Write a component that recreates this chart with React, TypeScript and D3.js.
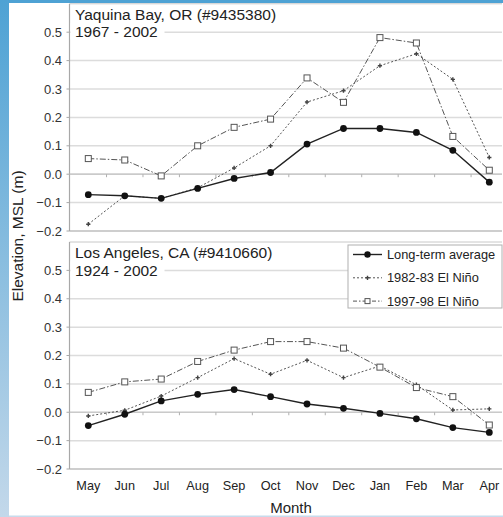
import * as d3 from 'd3';

// months along the x axis (May to Apr)
const months = ['May', 'Jun', 'Jul', 'Aug', 'Sep', 'Oct', 'Nov', 'Dec', 'Jan', 'Feb', 'Mar', 'Apr'];
const yTicks = [-0.2, -0.1, 0.0, 0.1, 0.2, 0.3, 0.4, 0.5];

// Yaquina Bay, OR
const yaqAvg = [-0.072, -0.076, -0.085, -0.05, -0.015, 0.006, 0.106, 0.161, 0.161, 0.147, 0.084, -0.028];
const yaq8283 = [-0.176, -0.076, -0.085, -0.048, 0.022, 0.1, 0.254, 0.294, 0.382, 0.424, 0.334, 0.059];
const yaq9798 = [0.055, 0.05, -0.006, 0.1, 0.165, 0.194, 0.339, 0.253, 0.481, 0.462, 0.133, 0.014];

// Los Angeles, CA
const laAvg = [-0.047, -0.007, 0.04, 0.063, 0.08, 0.055, 0.029, 0.014, -0.004, -0.023, -0.054, -0.071];
const la8283 = [-0.013, 0.007, 0.057, 0.122, 0.189, 0.134, 0.183, 0.122, 0.163, 0.097, 0.008, 0.012];
const la9798 = [0.07, 0.107, 0.117, 0.179, 0.219, 0.249, 0.249, 0.226, 0.159, 0.087, 0.055, -0.045];

const legendLabels = ['Long-term average', '1982-83 El Niño', '1997-98 El Niño'];

const W = 503;
const H = 517;
const FONT = '"Liberation Sans", Arial, sans-serif';
const left = 69.5;
const right = 502;

const x = d3.scalePoint<string>().domain(months).range([88.3, 489.3]);
const step = x.step();

type PanelProps = {
  top: number;
  bottom: number;
  title: string;
  years: string;
  avg: number[];
  s8283: number[];
  s9798: number[];
  legend?: boolean;
};

function Panel({ top, bottom, title, years, avg, s8283, s9798, legend }: PanelProps) {
  const y = d3.scaleLinear().domain([-0.2, 0.6]).range([bottom, top]);
  const line = d3
    .line<number>()
    .x((_, i) => x(months[i]) as number)
    .y((d) => y(d));
  const cross = d3.symbol(d3.symbolCross, 10)() as string;
  const boundaries = d3.range(1, months.length).map((k) => (x(months[0]) as number) - step / 2 + k * step);

  return (
    <g>
      {/* gridlines */}
      {yTicks.map((t) => (
        <line key={t} x1={left} x2={right} y1={y(t)} y2={y(t)} stroke="#dcdcdc" strokeWidth={1.5} />
      ))}
      {/* frame */}
      <line x1={left} x2={right} y1={y(0.6)} y2={y(0.6)} stroke="#c8c8c8" strokeWidth={1} />
      <line x1={left} x2={right} y1={bottom} y2={bottom} stroke="#b8b8b8" strokeWidth={1.2} />
      <line x1={left} x2={left} y1={y(0.6)} y2={bottom} stroke="#a8a8a8" strokeWidth={1.2} />
      {/* zero axis with category ticks */}
      <line x1={left} x2={right} y1={y(0)} y2={y(0)} stroke="#c4c4c4" strokeWidth={1.2} />
      {boundaries.map((b) => (
        <line key={b} x1={b} x2={b} y1={y(0)} y2={y(0) + 3} stroke="#b0b0b0" strokeWidth={1} />
      ))}
      {/* y ticks */}
      {yTicks.map((t) => (
        <g key={t}>
          <line x1={left - 3} x2={left} y1={y(t)} y2={y(t)} stroke="#a8a8a8" />
          <text x={62} y={y(t) + 4.5} textAnchor="end" fontSize={13} fill="#333">
            {d3.format('.1f')(t)}
          </text>
        </g>
      ))}
      {/* title */}
      <rect x={left + 1} y={y(0.5) - 9} width={94} height={16} fill="#fff" />
      <text x={75} y={top + 16} fontSize={15.5} fill="#222">{title}</text>
      <text x={75} y={top + 33.5} fontSize={15.5} fill="#222">{years}</text>

      {/* 1997-98 */}
      <path d={line(s9798) as string} fill="none" stroke="#555" strokeWidth={1} strokeDasharray="6,2,1.5,2" />
      {/* 1982-83 */}
      <path d={line(s8283) as string} fill="none" stroke="#555" strokeWidth={1} strokeDasharray="2,2" />
      {/* long-term avg */}
      <path d={line(avg) as string} fill="none" stroke="#222" strokeWidth={1.4} />

      {s8283.map((v, i) => (
        <path key={i} d={cross} transform={`translate(${x(months[i])},${y(v)})`} fill="#444" />
      ))}
      {s9798.map((v, i) => (
        <rect key={i} x={(x(months[i]) as number) - 3} y={y(v) - 3} width={6} height={6} fill="#fff" stroke="#555" strokeWidth={1} />
      ))}
      {avg.map((v, i) => (
        <circle key={i} cx={x(months[i])} cy={y(v)} r={3.4} fill="#111" />
      ))}

      {legend && (
        <g>
          <rect x={348} y={245} width={154} height={63} fill="#fff" stroke="#b0b0b0" strokeWidth={1} />
          {legendLabels.map((lab, i) => {
            const ly = 254.5 + i * 23.3;
            return (
              <g key={lab}>
                <line
                  x1={353}
                  x2={382}
                  y1={ly}
                  y2={ly}
                  stroke={i === 0 ? '#222' : '#555'}
                  strokeWidth={i === 0 ? 1.4 : 1}
                  strokeDasharray={i === 0 ? undefined : i === 1 ? '2,2' : '4,2,1.5,2'}
                />
                {i === 0 && <circle cx={367.5} cy={ly} r={3.2} fill="#111" />}
                {i === 1 && <path d={cross} transform={`translate(367.5,${ly})`} fill="#444" />}
                {i === 2 && <rect x={365} y={ly - 2.5} width={5} height={5} fill="#fff" stroke="#555" />}
                <text x={387} y={ly + 4.5} fontSize={12.8} fill="#222">{lab}</text>
              </g>
            );
          })}
        </g>
      )}
    </g>
  );
}

export default function App() {
  return (
    <svg
      width={W}
      height={H}
      style={{ position: 'absolute', left: 0, top: 0, fontFamily: FONT }}
    >
      <defs>
        <linearGradient id="edge" x1="0" y1="0" x2="0" y2="1">
          <stop offset="0" stopColor="#4ea2d4" />
          <stop offset="1" stopColor="#c3d8ea" />
        </linearGradient>
      </defs>
      <rect x={0} y={0} width={W} height={H} fill="#fff" />
      <rect x={0} y={0} width={W} height={3} fill="#4ea2d4" />
      <rect x={0} y={0} width={9} height={H} fill="url(#edge)" />
      <rect x={9} y={515.5} width={W - 9} height={1.5} fill="#c8dbec" />

      <Panel top={3.8} bottom={231} title="Yaquina Bay, OR (#9435380)" years="1967 - 2002" avg={yaqAvg} s8283={yaq8283} s9798={yaq9798} />
      <Panel top={242} bottom={469} title="Los Angeles, CA (#9410660)" years="1924 - 2002" avg={laAvg} s8283={la8283} s9798={la9798} legend />

      {months.map((m) => (
        <text key={m} x={x(m)} y={489.5} textAnchor="middle" fontSize={12.7} fill="#222">{m}</text>
      ))}
      <text x={291} y={513} textAnchor="middle" fontSize={15} fill="#222">Month</text>
      <text transform="translate(22.5,236) rotate(-90)" textAnchor="middle" fontSize={15.5} fill="#222">
        Elevation, MSL (m)
      </text>
    </svg>
  );
}
